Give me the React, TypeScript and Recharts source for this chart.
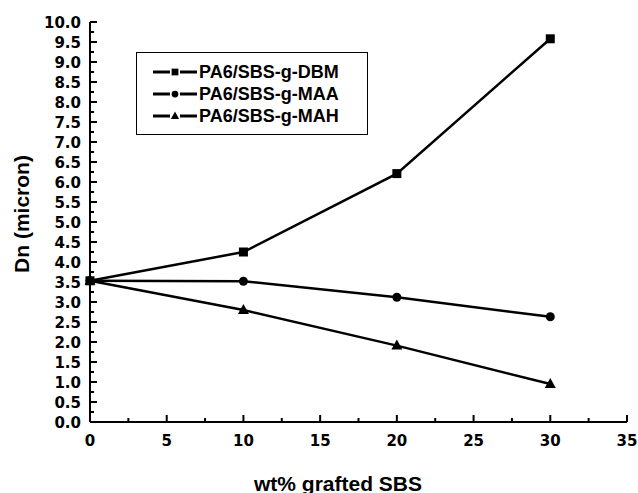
import { LineChart, Line, XAxis, YAxis } from 'recharts';

const xValues = [0, 10, 20, 30];
const dbm = [3.53, 4.25, 6.21, 9.58];
const maa = [3.53, 3.52, 3.12, 2.63];
const mah = [3.53, 2.8, 1.91, 0.95];

const seriesNames = ['PA6/SBS-g-DBM', 'PA6/SBS-g-MAA', 'PA6/SBS-g-MAH'];
const seriesShapes = ['square', 'circle', 'triangle'];

const xTicks = [0, 2.5, 5, 7.5, 10, 12.5, 15, 17.5, 20, 22.5, 25, 27.5, 30, 32.5, 35];
const yTicks = [
  0, 0.25, 0.5, 0.75, 1, 1.25, 1.5, 1.75, 2, 2.25, 2.5, 2.75, 3, 3.25, 3.5, 3.75, 4, 4.25, 4.5, 4.75,
  5, 5.25, 5.5, 5.75, 6, 6.25, 6.5, 6.75, 7, 7.25, 7.5, 7.75, 8, 8.25, 8.5, 8.75, 9, 9.25, 9.5, 9.75, 10,
];

const data = xValues.map((x, i) => ({ x, dbm: dbm[i], maa: maa[i], mah: mah[i] }));

const tickFont = { fontFamily: 'DejaVu Sans', fontWeight: 'bold', fontSize: 15, fill: '#000' } as const;
const titleFont = { fontFamily: 'Liberation Sans', fontWeight: 'bold', fontSize: 21, fill: '#000' } as const;

function Marker({ shape, cx, cy, s = 1 }: { shape: string; cx: number; cy: number; s?: number }) {
  if (shape === 'square') return <rect x={cx - 4.5 * s} y={cy - 4.5 * s} width={9 * s} height={9 * s} fill="#000" />;
  if (shape === 'circle') return <circle cx={cx} cy={cy} r={4.5 * s} fill="#000" />;
  return (
    <polygon
      points={`${cx},${cy - 6 * s} ${cx - 5.5 * s},${cy + 4 * s} ${cx + 5.5 * s},${cy + 4 * s}`}
      fill="#000"
    />
  );
}

function makeDot(shape: string) {
  return (props: any) => {
    const { cx, cy, key } = props;
    if (cx == null || cy == null) return <g key={key} />;
    return <Marker key={key} shape={shape} cx={cx} cy={cy} />;
  };
}

function YTick(props: any) {
  const { x, y, payload } = props;
  const v = payload.value;
  const major = Math.abs(v * 2 - Math.round(v * 2)) < 1e-6;
  return (
    <g>
      <line x1={x} x2={x + (major ? 7 : 4)} y1={y} y2={y} stroke="#000" strokeWidth={2} />
      {major && (
        <text x={x - 9} y={y} dy={6} textAnchor="end" {...tickFont}>
          {v.toFixed(1)}
        </text>
      )}
    </g>
  );
}

function XTick(props: any) {
  const { x, y, payload } = props;
  const v = payload.value;
  const major = v % 5 === 0;
  return (
    <g>
      <line x1={x} x2={x} y1={y} y2={y - (major ? 7 : 4)} stroke="#000" strokeWidth={2} />
      {major && (
        <text x={x} y={y} dy={24} textAnchor="middle" {...tickFont}>
          {v}
        </text>
      )}
    </g>
  );
}

// legend drawn as an overlay so it does not take room from the plot
function LegendBox() {
  return (
    <div
      style={{
        position: 'absolute',
        left: 136,
        top: 52,
        boxSizing: 'border-box',
        width: 232,
        height: 83,
        border: '1px solid #000',
        background: '#fff',
        padding: '8px 0 0 16px',
      }}
    >
      {seriesNames.map((name, i) => (
        <div key={name} style={{ display: 'flex', alignItems: 'center', height: 22 }}>
          <svg width={46} height={22} style={{ display: 'block' }}>
            <line x1={0} x2={17} y1={11} y2={11} stroke="#000" strokeWidth={3} />
            <line x1={27} x2={44} y1={11} y2={11} stroke="#000" strokeWidth={3} />
            <Marker shape={seriesShapes[i]} cx={22} cy={11} s={0.75} />
          </svg>
          <span
            style={{
              fontFamily: 'Liberation Sans',
              fontWeight: 'bold',
              fontSize: 18,
              color: '#000',
              lineHeight: '22px',
            }}
          >
            {name}
          </span>
        </div>
      ))}
    </div>
  );
}

export default function App() {
  return (
    <div style={{ position: 'absolute', left: 0, top: 0, width: 638, height: 493, background: '#fff' }}>
      <LineChart width={638} height={493} data={data} margin={{ top: 22, right: 11, bottom: 0, left: 0 }}>
        <XAxis
          dataKey="x"
          type="number"
          domain={[0, 35]}
          ticks={xTicks}
          interval={0}
          height={71}
          tickSize={0}
          tickMargin={0}
          tickLine={false}
          tick={<XTick />}
          axisLine={{ stroke: '#000', strokeWidth: 2 }}
          label={{
            content: () => (
              <text x={338} y={491} textAnchor="middle" {...titleFont}>
                wt% grafted SBS
              </text>
            ),
          }}
        />
        <YAxis
          type="number"
          domain={[0, 10]}
          ticks={yTicks}
          interval={0}
          width={90}
          tickSize={0}
          tickMargin={0}
          tickLine={false}
          tick={<YTick />}
          axisLine={{ stroke: '#000', strokeWidth: 2 }}
          label={{
            content: () => (
              <text x={21} y={214} transform="rotate(-90 21 214)" textAnchor="middle" dominantBaseline="central" {...titleFont}>
                Dn (micron)
              </text>
            ),
          }}
        />
        <Line dataKey="dbm" name={seriesNames[0]} stroke="#000" strokeWidth={2.5} dot={makeDot('square')} isAnimationActive={false} />
        <Line dataKey="maa" name={seriesNames[1]} stroke="#000" strokeWidth={2.5} dot={makeDot('circle')} isAnimationActive={false} />
        <Line dataKey="mah" name={seriesNames[2]} stroke="#000" strokeWidth={2.5} dot={makeDot('triangle')} isAnimationActive={false} />
      </LineChart>
      <LegendBox />
    </div>
  );
}
